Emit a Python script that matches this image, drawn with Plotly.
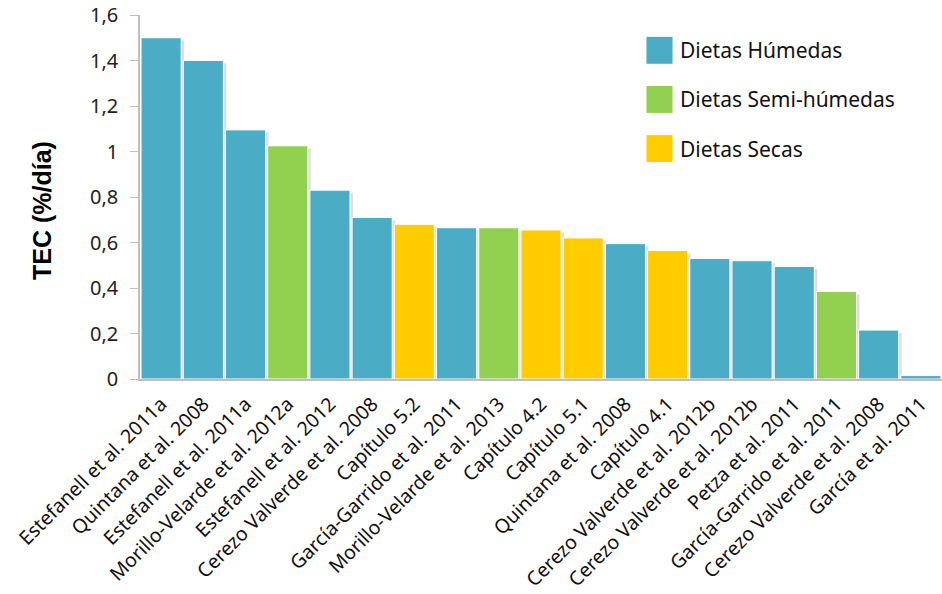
import plotly.graph_objects as go

# Studies, in plotted order
studies = [
    "Estefanell et al. 2011a", "Quintana et al. 2008", "Estefanell et al. 2011a",
    "Morillo-Velarde et al. 2012a", "Estefanell et al. 2012", "Cerezo Valverde et al. 2008",
    "Capítulo 5.2", "García-Garrido et al. 2011", "Morillo-Velarde et al. 2013",
    "Capítulo 4.2", "Capítulo 5.1", "Quintana et al. 2008", "Capítulo 4.1",
    "Cerezo Valverde et al. 2012b", "Cerezo Valverde et al. 2012b", "Petza et al. 2011",
    "García-Garrido et al. 2011", "Cerezo Valverde et al. 2008", "García et al. 2011",
]
tec = [1.50, 1.40, 1.095, 1.025, 0.83, 0.71, 0.68, 0.665, 0.665, 0.655,
       0.62, 0.595, 0.565, 0.53, 0.52, 0.495, 0.385, 0.215, 0.015]
diet = ["H", "H", "H", "S", "H", "H", "D", "H", "S", "D",
        "D", "H", "D", "H", "H", "H", "S", "H", "H"]

groups = ["H", "S", "D"]
group_names = {"H": "Dietas Húmedas", "S": "Dietas Semi-húmedas", "D": "Dietas Secas"}
group_colors = {"H": "#4BACC6", "S": "#92D050", "D": "#FFCC00"}

fig = go.Figure()
positions = list(range(len(studies)))

# soft drop shadow behind every bar
fig.add_trace(go.Bar(
    x=positions, y=[v - 0.012 for v in tec], width=0.95, offset=-0.475 + 0.07,
    marker=dict(color="rgba(0,0,0,0.13)", line=dict(width=0)),
    showlegend=False, hoverinfo="skip",
))

for g in groups:
    xs = [i for i in positions if diet[i] == g]
    ys = [tec[i] for i in positions if diet[i] == g]
    fig.add_trace(go.Bar(
        x=xs, y=ys, width=0.95, offset=-0.475, name=group_names[g],
        marker=dict(color=group_colors[g], line=dict(width=1, color="white")),
        showlegend=False,
    ))

# Legend drawn with large square swatches
legend_y = [0.903, 0.768, 0.633]
for g, yy in zip(groups, legend_y):
    fig.add_shape(type="rect", xref="paper", yref="paper",
                  x0=0.6315, x1=0.664, y0=yy - 0.037, y1=yy + 0.037,
                  fillcolor=group_colors[g], line=dict(width=0))
    fig.add_annotation(xref="paper", yref="paper", x=0.671, y=yy,
                       text=group_names[g], showarrow=False,
                       xanchor="left", yanchor="middle",
                       font=dict(family="Noto Sans", size=21, color="#111111"))

# Y-axis title
fig.add_annotation(xref="paper", yref="paper", x=0, y=0.5, xshift=-98, yshift=-14,
                   text="<b>TEC (%/día)</b>", textangle=-90, showarrow=False,
                   xanchor="center", yanchor="middle",
                   font=dict(family="Liberation Sans", size=25, color="#000000"))

fig.update_layout(
    width=942, height=594,
    margin=dict(l=140, r=0, t=15, b=215),
    paper_bgcolor="white", plot_bgcolor="white",
    barmode="overlay",
    separators=",.",
    font=dict(family="Noto Sans", color="#222222"),
)
fig.update_xaxes(
    range=[-0.5, len(studies) - 0.5],
    tickmode="array", tickvals=positions, ticktext=studies,
    tickangle=-45, tickfont=dict(size=19.5, color="#111111"),
    ticklabelstandoff=4,
    showline=True, linecolor="#BFBFBF", linewidth=2,
    ticks="", showgrid=False, zeroline=False,
)
fig.update_yaxes(
    range=[0, 1.6], tickvals=[0, 0.2, 0.4, 0.6, 0.8, 1.0, 1.2, 1.4, 1.6],
    tickfont=dict(size=20, color="#222222"),
    ticklabelstandoff=8,
    showline=True, linecolor="#BFBFBF", linewidth=1.5,
    ticks="outside", ticklen=8, tickcolor="#BFBFBF",
    showgrid=False, zeroline=False,
)

fig.write_html("out.html")
